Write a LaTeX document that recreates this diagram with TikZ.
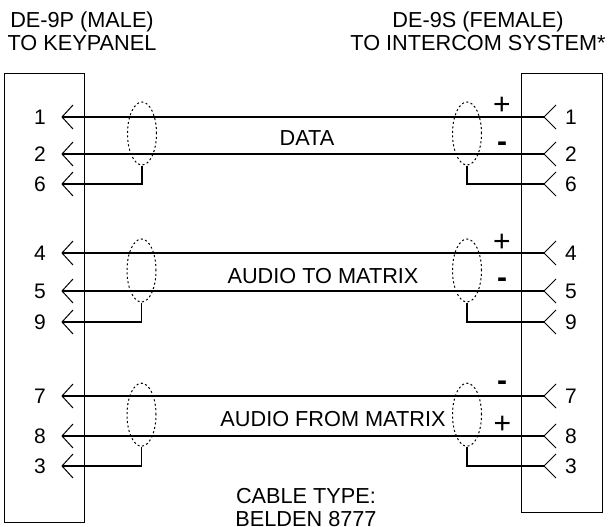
\documentclass[tikz,border=0pt]{standalone}
\usepackage{fontspec}
\setmainfont{Liberation Sans}
\usetikzlibrary{shapes.geometric}
\begin{document}
\begin{tikzpicture}[x=1pt,y=-1pt,
  lbl/.style={font=\fontsize{21.7}{23}\selectfont, inner sep=0pt},
  pinlbl/.style={font=\fontsize{21}{23}\selectfont, inner sep=0pt},
  pol/.style={font=\fontsize{30}{30}\selectfont, inner sep=0pt},
  wire/.style={line width=1.1pt},
  conn/.style={draw, line width=1.1pt, inner sep=0pt, anchor=north west},
  shield/.style={draw, ellipse, minimum width=29pt, minimum height=63pt, inner sep=0pt, line width=1pt, dash pattern=on 2pt off 2.5pt},
  chev/.style={line width=1pt}
]
\useasboundingbox (0,0) rectangle (608,527);
\clip (0,0) rectangle (608,527);
% connector housings
\node[conn, minimum width=80pt, minimum height=449pt] (lbox) at (4,73) {};
\node[conn, minimum width=81pt, minimum height=439pt] (rbox) at (521,73) {};
% pins
\foreach \p/\y in {1/117,2/154,6/184,4/253,5/291,9/322,7/396,8/436,3/466} {
  \coordinate (L\p) at (62,\y);
  \coordinate (R\p) at (544,\y);
  \node[pinlbl] (nl\p) at (40,\y) {\p};
  \node[pinlbl] (nr\p) at (571,\y) {\p};
  \draw[chev] ([shift={(11,-12)}]L\p) -- (L\p) -- ([shift={(11,12)}]L\p);
  \draw[chev] ([shift={(12,-12)}]R\p) -- (R\p) -- ([shift={(12,12)}]R\p);
}
% wires
\draw[wire] (L1) -- (R1);
\draw[wire] (L2) -- (R2);
\draw[wire] (L4) -- (R4);
\draw[wire] (L5) -- (R5);
\draw[wire] (L7) -- (R7);
\draw[wire] (L8) -- (R8);
% shields
\node[shield] (sl1) at (142,133.5) {};
\node[shield] (sr1) at (467,133.5) {};
\node[shield] (sl2) at (141.5,270.5) {};
\node[shield] (sr2) at (467,270.5) {};
\node[shield] (sl3) at (141.5,414.7) {};
\node[shield] (sr3) at (467,414.7) {};
\draw[wire] (sl1.south) |- (L6);
\draw[wire] (sr1.south) |- (R6);
\draw[wire] (sl2.south) |- (L9);
\draw[wire] (sr2.south) |- (R9);
\draw[wire] (sl3.south) |- (L3);
\draw[wire] (sr3.south) |- (R3);
% polarity
\node[pol] (p1) at (502,106) {+};
\node[pol] (m1) at (502,147) {\textbf{-}};
\node[pol] (p2) at (502,243) {+};
\node[pol] (m2) at (502,283) {\textbf{-}};
\node[pol] (m3) at (502,386) {\textbf{-}};
\node[pol] (p3) at (502.5,425) {+};
% labels
\node[lbl, align=center, anchor=north] (hl) at (82,12) {DE-9P (MALE)\\TO KEYPANEL};
\node[lbl, align=center, anchor=north] (hr) at (478,12) {DE-9S (FEMALE)\\TO INTERCOM SYSTEM*};
\node[lbl, anchor=base] (data) at (307,145) {DATA};
\node[lbl, anchor=base] (atm) at (323,283.3) {AUDIO TO MATRIX};
\node[lbl, anchor=base] (afm) at (333,426.7) {AUDIO FROM MATRIX};
\node[lbl, align=center, anchor=north] (cable) at (306,488) {CABLE TYPE:\\BELDEN 8777};
\end{tikzpicture}
\end{document}
